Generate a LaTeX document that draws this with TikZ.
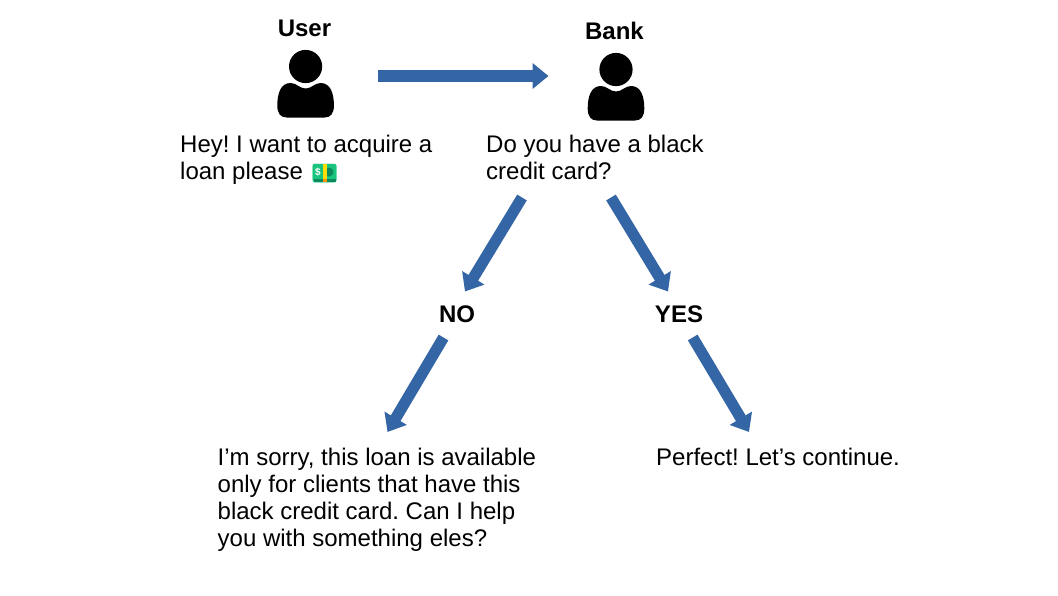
\documentclass[tikz,border=0pt]{standalone}
\usepackage{fontspec}
\setmainfont{Liberation Sans}
\usetikzlibrary{arrows.meta}
\definecolor{arrowblue}{HTML}{3465A4}
\definecolor{billgreen}{HTML}{1BC47D}
\definecolor{billdark}{HTML}{0E8A5F}
\tikzset{
  x=1pt,y=-1pt,
  flow/.style={draw=arrowblue,line width=11.2pt,-{Triangle[length=16pt,width=25pt]},shorten >=0pt},
  speech/.style={anchor=north west,inner sep=0pt,align=left,font=\fontsize{24}{27}\selectfont},
  head/.style={anchor=center,inner sep=0pt,font=\fontsize{24}{27}\selectfont\bfseries},
  person/.pic={
    \fill[black] (0,0) circle[radius=16.6];
    \fill[black] (-28.3,39) .. controls (-28.3,27) and (-25,16.5) .. (-15,16.5)
      .. controls (-9,16.5) and (-6,22) .. (0,22)
      .. controls (6,22) and (9,16.5) .. (15,16.5)
      .. controls (25,16.5) and (28.3,27) .. (28.3,39)
      .. controls (28.3,47) and (25,51) .. (19,51)
      -- (-19,51) .. controls (-25,51) and (-28.3,47) .. (-28.3,39) -- cycle;
  }
}
\begin{document}
\frenchspacing
\begin{tikzpicture}
\useasboundingbox (0,0) rectangle (1058,595);
\node[head] (user) at (304.5,28) {User};
\node[head] (bank) at (614.5,31) {Bank};
\pic at (305.6,66.5) {person};
\pic at (616,69.5) {person};
\node[speech] (hey) at (180,134.5) {Hey! I want to acquire a\\loan please};
\node[speech] (q) at (486,134.5) {Do you have a black\\credit card?};
\node[head] (no) at (457,314) {NO};
\node[head] (yes) at (679,314) {YES};
\node[speech] (sorry) at (217.5,447.5) {I’m sorry, this loan is available\\only for clients that have this\\black credit card. Can I help\\you with something eles?};
\node[speech] (ok) at (656,447.5) {Perfect! Let’s continue.};
% money emoji
\fill[billgreen!60!white,rounded corners=2pt] (312.5,163.5) rectangle (336.5,182.5);
\fill[billgreen,rounded corners=2pt] (312.7,164) rectangle (336.3,182);
\fill[billdark] (313.5,178.5) rectangle (335.5,181.5);
\fill[billdark] (329,172) circle[radius=4.5];
\fill[yellow!80!orange] (323,164) rectangle (327,178.5);
\fill[orange!85!yellow] (323,178.5) rectangle (327,182);
\node[inner sep=0pt,text=white,font=\fontsize{10}{10}\selectfont\bfseries] (dollar) at (318,172) {\$};
% connectors
\coordinate (a1) at (378,76); \coordinate (a2) at (548.5,76);
\coordinate (b1) at (522,197.5); \coordinate (b2) at (465,291.5);
\coordinate (c1) at (611,197.5); \coordinate (c2) at (668,291.5);
\coordinate (d1) at (443.5,337.5); \coordinate (d2) at (387.5,432);
\coordinate (e1) at (692.7,337.5); \coordinate (e2) at (749,432);
\draw[flow] (a1) -- (a2);
\draw[flow] (b1) -- (b2);
\draw[flow] (c1) -- (c2);
\draw[flow] (d1) -- (d2);
\draw[flow] (e1) -- (e2);
\end{tikzpicture}
\end{document}
